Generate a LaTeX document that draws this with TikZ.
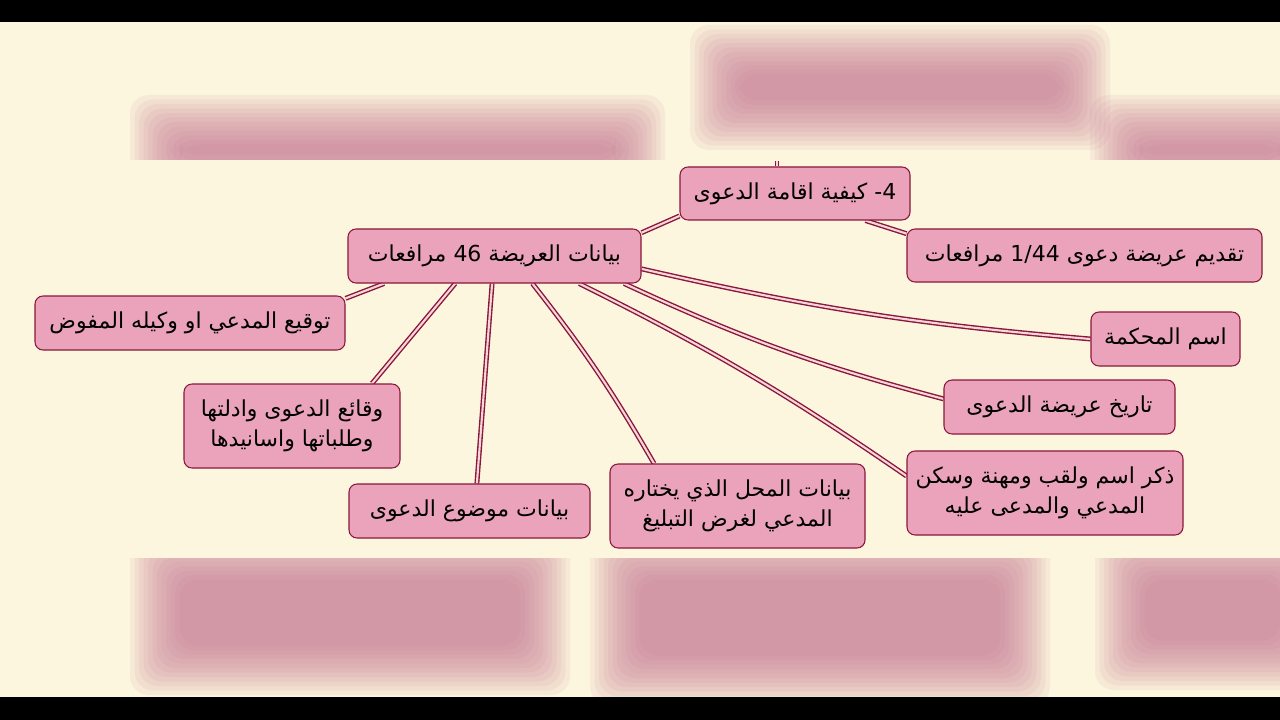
\documentclass[tikz,border=0pt]{standalone}
\usepackage{fontspec}
\usepackage{tikz}
\usetikzlibrary{backgrounds}
\TeXXeTstate=1
\newfontfamily\arabicfont[Script=Arabic]{DejaVu Sans}

\definecolor{cream}{RGB}{252,246,222}
\definecolor{boxfill}{RGB}{235,163,188}
\definecolor{boxline}{RGB}{138,22,58}
\definecolor{linkfill}{RGB}{247,214,218}
\definecolor{blurpink}{RGB}{196,112,144}

\tikzset{
  box/.style={draw=boxline, fill=boxfill, line width=0.8pt, rounded corners=6pt,
    align=center, inner sep=2pt, font=\arabicfont\fontsize{16.5}{22.5}\selectfont},
  link/.style={draw=boxline, line width=1.05pt, double=linkfill, double distance=1.6pt},
}

% soft blurred block of the backdrop
\newcommand{\blurblock}[4]{%
  \foreach \k in {0,...,11}
    \fill[blurpink, fill opacity=0.09, rounded corners=14pt]
      (#1+\k*4.5,#2+\k*4.5) rectangle (#3-\k*4.5,#4-\k*4.5);%
}

\begin{document}
\begin{tikzpicture}[x=0.75pt,y=0.75pt,yscale=-1]
\useasboundingbox (0,0) rectangle (1280,720);

% Text Node
\node[box, minimum width=172.5pt, minimum height=39.75pt] (kayfiya) at (795,193.5) {\beginR 4- كيفية اقامة الدعوى\endR};
% Text Node
\node[box, minimum width=266.25pt, minimum height=39.75pt] (taqdim) at (1084.5,255.5) {\beginR تقديم عريضة دعوى \beginL1/44\endL{} مرافعات\endR};
% Text Node
\node[box, minimum width=219.75pt, minimum height=40.5pt] (bayanat) at (494.5,256) {\beginR بيانات العريضة \beginL46\endL{} مرافعات\endR};
% Text Node
\node[box, minimum width=232.5pt, minimum height=40.5pt] (tawqi) at (190,323) {\beginR توقيع المدعي او وكيله المفوض\endR};
% Text Node
\node[box, minimum width=162pt, minimum height=63pt] (waqai) at (292,426) {\beginR وقائع الدعوى وادلتها\endR\\\beginR وطلباتها واسانيدها\endR};
% Text Node
\node[box, minimum width=180.75pt, minimum height=40.5pt] (mawdu) at (469.5,511) {\beginR بيانات موضوع الدعوى\endR};
% Text Node
\node[box, minimum width=191.25pt, minimum height=63pt] (mahal) at (737.5,506) {\beginR بيانات المحل الذي يختاره\endR\\\beginR المدعي لغرض التبليغ\endR};
% Text Node
\node[box, minimum width=207pt, minimum height=63pt] (dhikr) at (1045,493) {\beginR ذكر اسم ولقب ومهنة وسكن\endR\\\beginR المدعي والمدعى عليه\endR};
% Text Node
\node[box, minimum width=173.25pt, minimum height=40.5pt] (tarikh) at (1059.5,407) {\beginR تاريخ عريضة الدعوى\endR};
% Text Node
\node[box, minimum width=111.75pt, minimum height=40.5pt] (mahkama) at (1165.5,339) {\beginR اسم المحكمة\endR};

\coordinate (up) at (777,161);

\begin{scope}[on background layer]
%Backdrop
\fill[cream] (0,0) rectangle (1280,720);
\blurblock{130}{95}{665}{205}
\blurblock{690}{25}{1110}{150}
\blurblock{1090}{95}{1330}{205}
\blurblock{130}{530}{570}{695}
\blurblock{590}{530}{1050}{705}
\blurblock{1095}{530}{1330}{690}
\fill[cream] (0,160) rectangle (1280,558);
\fill[black] (0,0) rectangle (1280,22);
\fill[black] (0,697) rectangle (1280,720);

%Straight Lines
\draw[link] (up) -- (up |- kayfiya.north);
\draw[link] (bayanat.9) -- (kayfiya.191);
\draw[link] (kayfiya.-21) -- (taqdim.173);
\draw[link] (bayanat.-166) -- (tawqi.9);
\draw[link] (bayanat.215) -- (waqai.28);
\draw[link] (bayanat.265) -- (mawdu.75);
%Curved Lines
\draw[link] (bayanat.-36) to[bend right=4] (mahal.153);
\draw[link] (bayanat.-18) to[bend right=4] (dhikr.173);
\draw[link] (bayanat.-12) to[bend left=5] (tarikh.176);
\draw[link] (bayanat.-5) to[bend left=4] (mahkama.west);
\end{scope}

\end{tikzpicture}
\end{document}
